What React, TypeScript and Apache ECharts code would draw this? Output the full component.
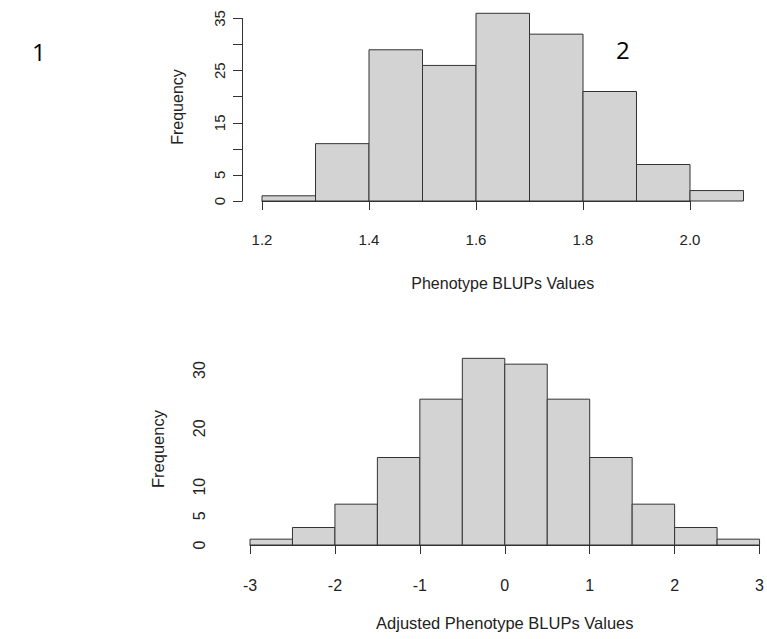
import React, { useEffect, useRef } from "react";
import * as echarts from "echarts";

// Top histogram: Phenotype BLUPs Values
const topEdges = [1.2, 1.3, 1.4, 1.5, 1.6, 1.7, 1.8, 1.9, 2.0, 2.1];
const topCounts = [1, 11, 29, 26, 36, 32, 21, 7, 2];
const topYLabels = [0, 5, 15, 25, 35];

// Bottom histogram: Adjusted Phenotype BLUPs Values
const botEdges = [-3, -2.5, -2, -1.5, -1, -0.5, 0, 0.5, 1, 1.5, 2, 2.5, 3];
const botCounts = [1, 3, 7, 15, 25, 32, 31, 25, 15, 7, 3, 1];
const botYLabels = [0, 5, 10, 20, 30];

const panelMarks = ["1", "2"];
const yTitle = "Frequency";
const topXTitle = "Phenotype BLUPs Values";
const botXTitle = "Adjusted Phenotype BLUPs Values";

function toBins(edges: number[], counts: number[]) {
  return counts.map((c, i) => [edges[i], edges[i + 1], c]);
}

const FONT = "'Liberation Sans', Arial, sans-serif";
const TXT = "#222";
const LINE = "#333";

const renderItem = (params: any, api: any) => {
  const x0 = api.value(0);
  const x1 = api.value(1);
  const y = api.value(2);
  const p0 = api.coord([x0, 0]);
  const p1 = api.coord([x1, y]);
  return {
    type: "rect",
    shape: { x: p0[0], y: p1[1], width: p1[0] - p0[0], height: p0[1] - p1[1] },
    style: { fill: "#D3D3D3", stroke: LINE, lineWidth: 1 },
  };
};

export default function App() {
  const ref = useRef<HTMLDivElement>(null);
  useEffect(() => {
    if (!ref.current) return;
    const chart = echarts.init(ref.current, null, { renderer: "svg" });
    const axisCommon = {
      splitLine: { show: false },
      axisLine: { show: true, lineStyle: { color: LINE, width: 1 } },
      axisTick: { show: true, length: 9, lineStyle: { color: LINE, width: 1 } },
    };
    chart.setOption({
      animation: false,
      backgroundColor: "#fff",
      textStyle: { fontFamily: FONT },
      grid: [
        { left: 262, top: 18.5, width: 481.5, height: 182.5 },
        { left: 262, top: 18.5, width: 428, height: 182.5 },
        { left: 250, top: 370, width: 512.7, height: 175 },
      ],
      xAxis: [
        {
          type: "value",
          gridIndex: 0,
          min: 1.2,
          max: 2.1,
          offset: 8,
          splitLine: { show: false },
          axisLine: { show: false },
          axisTick: { show: false },
          axisLabel: { show: false },
          name: topXTitle,
          nameLocation: "middle",
          nameGap: 66,
          nameTextStyle: { color: TXT, fontSize: 16, fontFamily: FONT },
        },
        {
          type: "value",
          gridIndex: 1,
          min: 1.2,
          max: 2.0,
          interval: 0.2,
          offset: 8,
          ...axisCommon,
          axisLabel: {
            color: TXT,
            fontSize: 15,
            margin: 23,
            fontFamily: FONT,
            formatter: (v: number) => v.toFixed(1),
          },
        },
        {
          type: "value",
          gridIndex: 2,
          min: -3,
          max: 3,
          interval: 1,
          offset: 8,
          ...axisCommon,
          axisLabel: {
            color: TXT,
            fontSize: 16,
            margin: 24,
            fontFamily: FONT,
            formatter: (v: number) => String(v),
          },
          name: botXTitle,
          nameLocation: "middle",
          nameGap: 61,
          nameTextStyle: { color: TXT, fontSize: 16.5, fontFamily: FONT },
        },
      ],
      yAxis: [
        { type: "value", gridIndex: 0, min: 0, max: 35, show: false },
        {
          type: "value",
          gridIndex: 1,
          min: 0,
          max: 35,
          interval: 5,
          offset: 20,
          ...axisCommon,
          axisLabel: {
            color: TXT,
            fontSize: 15,
            rotate: 90,
            margin: 15,
            fontFamily: FONT,
            formatter: (v: number) => (topYLabels.includes(v) ? String(v) : ""),
          },
        },
        {
          type: "value",
          gridIndex: 2,
          min: 0,
          max: 30,
          interval: 5,
          offset: 21,
          ...axisCommon,
          axisLabel: {
            color: TXT,
            fontSize: 16,
            rotate: 90,
            margin: 22,
            fontFamily: FONT,
            formatter: (v: number) => (botYLabels.includes(v) ? String(v) : ""),
          },
        },
      ],
      series: [
        {
          type: "custom",
          xAxisIndex: 0,
          yAxisIndex: 0,
          clip: false,
          renderItem,
          encode: { x: [0, 1], y: 2 },
          data: toBins(topEdges, topCounts),
        },
        {
          type: "custom",
          xAxisIndex: 2,
          yAxisIndex: 2,
          clip: false,
          renderItem,
          encode: { x: [0, 1], y: 2 },
          data: toBins(botEdges, botCounts),
        },
      ],
      graphic: [
        {
          type: "text",
          x: 177,
          y: 107,
          rotation: Math.PI / 2,
          style: {
            text: yTitle,
            fontSize: 16,
            fontFamily: FONT,
            fill: TXT,
            align: "center",
            verticalAlign: "middle",
          },
        },
        {
          type: "text",
          x: 158,
          y: 449,
          rotation: Math.PI / 2,
          style: {
            text: yTitle,
            fontSize: 16.5,
            fontFamily: FONT,
            fill: TXT,
            align: "center",
            verticalAlign: "middle",
          },
        },
        {
          type: "text",
          left: 32,
          top: 39,
          style: { text: panelMarks[0], fontSize: 24, fontFamily: "'Open Sans', sans-serif", fill: "#000" },
        },
        {
          type: "text",
          left: 616,
          top: 37,
          style: { text: panelMarks[1], fontSize: 24, fontFamily: "'Open Sans', sans-serif", fill: "#000" },
        },
      ],
    });
    return () => chart.dispose();
  }, []);
  return (
    <div
      ref={ref}
      style={{ position: "absolute", left: 0, top: 0, width: 767, height: 639, background: "#fff" }}
    />
  );
}
